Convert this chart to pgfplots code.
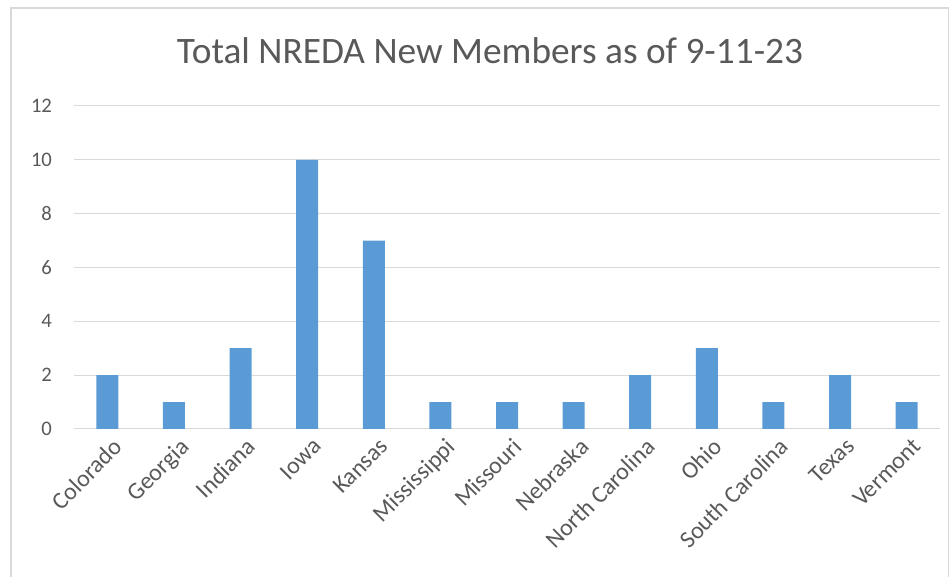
\documentclass[border=0pt]{standalone}
\usepackage{pgfplots}
\pgfplotsset{compat=1.18}
\usepackage{fontspec}
\setmainfont{Carlito}
\definecolor{barblue}{HTML}{5B9BD5}
\definecolor{txtgray}{HTML}{595959}
\definecolor{gridgray}{HTML}{D9D9D9}
\definecolor{framegray}{HTML}{D9D9D9}
\begin{document}
\begin{tikzpicture}[x=1pt,y=1pt]
\path[use as bounding box] (0,0) rectangle (712.5,432.75);
\draw[framegray,line width=0.8pt] (8.25,-2) -- (8.25,426.75) -- (711.5,426.75) -- (711.5,-2);
\begin{axis}[
  at={(55.5pt,111pt)}, anchor=south west,
  scale only axis,
  width=649.5pt, height=242.25pt,
  ymin=0, ymax=12, ytick={0,2,...,12},
  xmin=-0.5, xmax=12.5,
  xtick=data,
  xticklabels={Colorado,Georgia,Indiana,Iowa,Kansas,Mississippi,Missouri,Nebraska,North Carolina,Ohio,South Carolina,Texas,Vermont},
  x tick label style={rotate=45, anchor=north east, font=\fontsize{18}{20}\selectfont, text=txtgray, inner sep=1pt, xshift=-0.5pt, yshift=-5.5pt},
  y tick label style={font=\fontsize{15.5}{18}\selectfont, text=txtgray},
  /pgf/number format/assume math mode=true,
  ymajorgrids, grid style={gridgray, line width=0.75pt},
  axis lines*=left,
  x axis line style={gridgray, line width=0.75pt, -},
  y axis line style={draw=none},
  major tick length=0pt,
  yticklabel style={xshift=-13pt},
  ybar, bar width=16.5pt,
  clip=false,
]
\addplot[fill=barblue, draw=none] coordinates {
(0,2) (1,1) (2,3) (3,10) (4,7) (5,1) (6,1) (7,1) (8,2) (9,3) (10,1) (11,2) (12,1)};
\end{axis}
\node[text=txtgray, font=\fontsize{28}{32}\selectfont] at (367.5,395) {Total NREDA New Members as of 9-11-23};
\end{tikzpicture}
\end{document}
